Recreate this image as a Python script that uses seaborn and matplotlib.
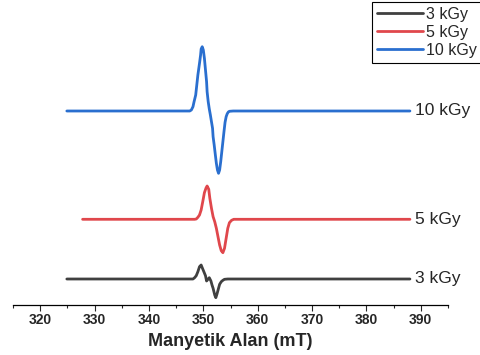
import numpy as np
import pandas as pd
import seaborn as sns
import matplotlib.pyplot as plt
from matplotlib.ticker import MultipleLocator

# EPR spectra: field (mT) and signal (a.u.)
field_3 = [324.9, 347.8, 348.1, 348.4, 348.7, 349.0, 349.3, 349.6, 349.8, 350.1,
           350.4, 350.6, 350.9, 351.1, 351.4, 351.6, 351.8, 352.1, 352.3, 352.5,
           352.8, 353.0, 353.3, 353.6, 353.9, 354.5, 388.0]
sig_3 = [0, 0, 0, 1.3, 3.3, 7.3, 12.3, 14, 11.3, 7.3,
         3.3, -2, 0, 1.3, -2, -6, -9.3, -16, -18.7, -15.3,
         -9.3, -5.3, -2.7, -1.3, -0.3, 0, 0]

field_5 = [327.8, 348.4, 348.7, 349.0, 349.3, 349.6, 349.9, 350.2, 350.5, 350.7,
           351.0, 351.2, 351.5, 351.8, 352.1, 352.4, 352.7, 353.0, 353.3, 353.6,
           353.9, 354.2, 354.5, 354.8, 355.2, 355.6, 388.0]
sig_5 = [0, 0, 0.3, 2, 4.3, 9.3, 17.7, 26.6, 31.3, 33.3,
         30, 21, 11, 2.6, -2.4, -9, -17.4, -25.7, -31.4, -33.4,
         -29, -19, -9, -3.4, -1, 0, 0]

field_10 = [324.9, 347.5, 347.8, 348.1, 348.3, 348.6, 348.8, 349.0, 349.3, 349.5,
            349.6, 349.8, 350.0, 350.2, 350.4, 350.6, 350.7, 350.9, 351.1, 351.3,
            351.5, 351.7, 351.8, 352.0, 352.2, 352.4, 352.6, 352.8, 353.0, 353.2,
            353.4, 353.6, 353.8, 354.0, 354.2, 354.4, 354.6, 354.8, 355.5, 388.0]
sig_10 = [0, 0, 1, 4.3, 9.3, 16, 26, 36, 47.7, 56,
          62, 64.3, 61, 52.7, 41, 29.3, 19.3, 9.3, 2, -4,
          -10.7, -17.3, -25.7, -34, -43.3, -52.3, -59, -62.3, -59, -50.7,
          -40.7, -30.7, -20.7, -11.3, -5.7, -2.7, -1, -0.3, 0, 0]

doses = ['3 kGy', '5 kGy', '10 kGy']
offsets = {'3 kGy': 26, '5 kGy': 85.7, '10 kGy': 194}
colors = {'3 kGy': '#404040', '5 kGy': '#e0474c', '10 kGy': '#2a6fcf'}

frames = []
for dose, f, s in zip(doses, [field_3, field_5, field_10], [sig_3, sig_5, sig_10]):
    d = pd.DataFrame({'field': f, 'signal': s})
    d['dose'] = dose
    d['y'] = d['signal'] + offsets[dose]
    frames.append(d)
df = pd.concat(frames, ignore_index=True)

sns.set_style('white')
plt.rcParams['font.family'] = ['Liberation Sans', 'DejaVu Sans']

fig = plt.figure(figsize=(4.8, 3.55), dpi=100)
ax = fig.add_axes([13 / 480, 50 / 355, 435 / 480, 305 / 355])

sns.lineplot(data=df, x='field', y='y', hue='dose', hue_order=doses,
             palette=colors, estimator=None, sort=False, linewidth=2.0, ax=ax)

# labels at the right end of each trace
for dose in doses:
    ax.text(388.9, offsets[dose], dose, fontsize=12.5, va='center', ha='left')

ax.set_xlim(315, 395)
ax.set_ylim(0, 305)
ax.xaxis.set_major_locator(MultipleLocator(10))
ax.xaxis.set_minor_locator(MultipleLocator(5))
ax.set_xticks(range(320, 391, 10))
ax.set_yticks([])
ax.tick_params(axis='x', which='major', length=4, width=0.8, direction='out',
               labelsize=10, pad=2, bottom=True)
ax.tick_params(axis='x', which='minor', length=2, width=0.8, direction='out', bottom=True)
for lbl in ax.get_xticklabels():
    lbl.set_fontweight('bold')
ax.set_xlabel('Manyetik Alan (mT)', fontsize=13, fontweight='bold', labelpad=4)
ax.set_ylabel('')

for side in ['left', 'right', 'top']:
    ax.spines[side].set_visible(False)
ax.spines['bottom'].set_color('black')
ax.spines['bottom'].set_linewidth(0.9)

handles, labels = ax.get_legend_handles_labels()
ax.get_legend().remove()
leg = fig.legend(handles, labels, loc='upper left', bbox_to_anchor=(372 / 480, 0.995),
                 fontsize=11.5, frameon=True, fancybox=False, framealpha=1,
                 edgecolor='black', borderaxespad=0, borderpad=0.3,
                 handlelength=2.9, handletextpad=0.2, labelspacing=0.2)
leg.get_frame().set_linewidth(0.8)

fig.savefig('out.png', dpi=100)
